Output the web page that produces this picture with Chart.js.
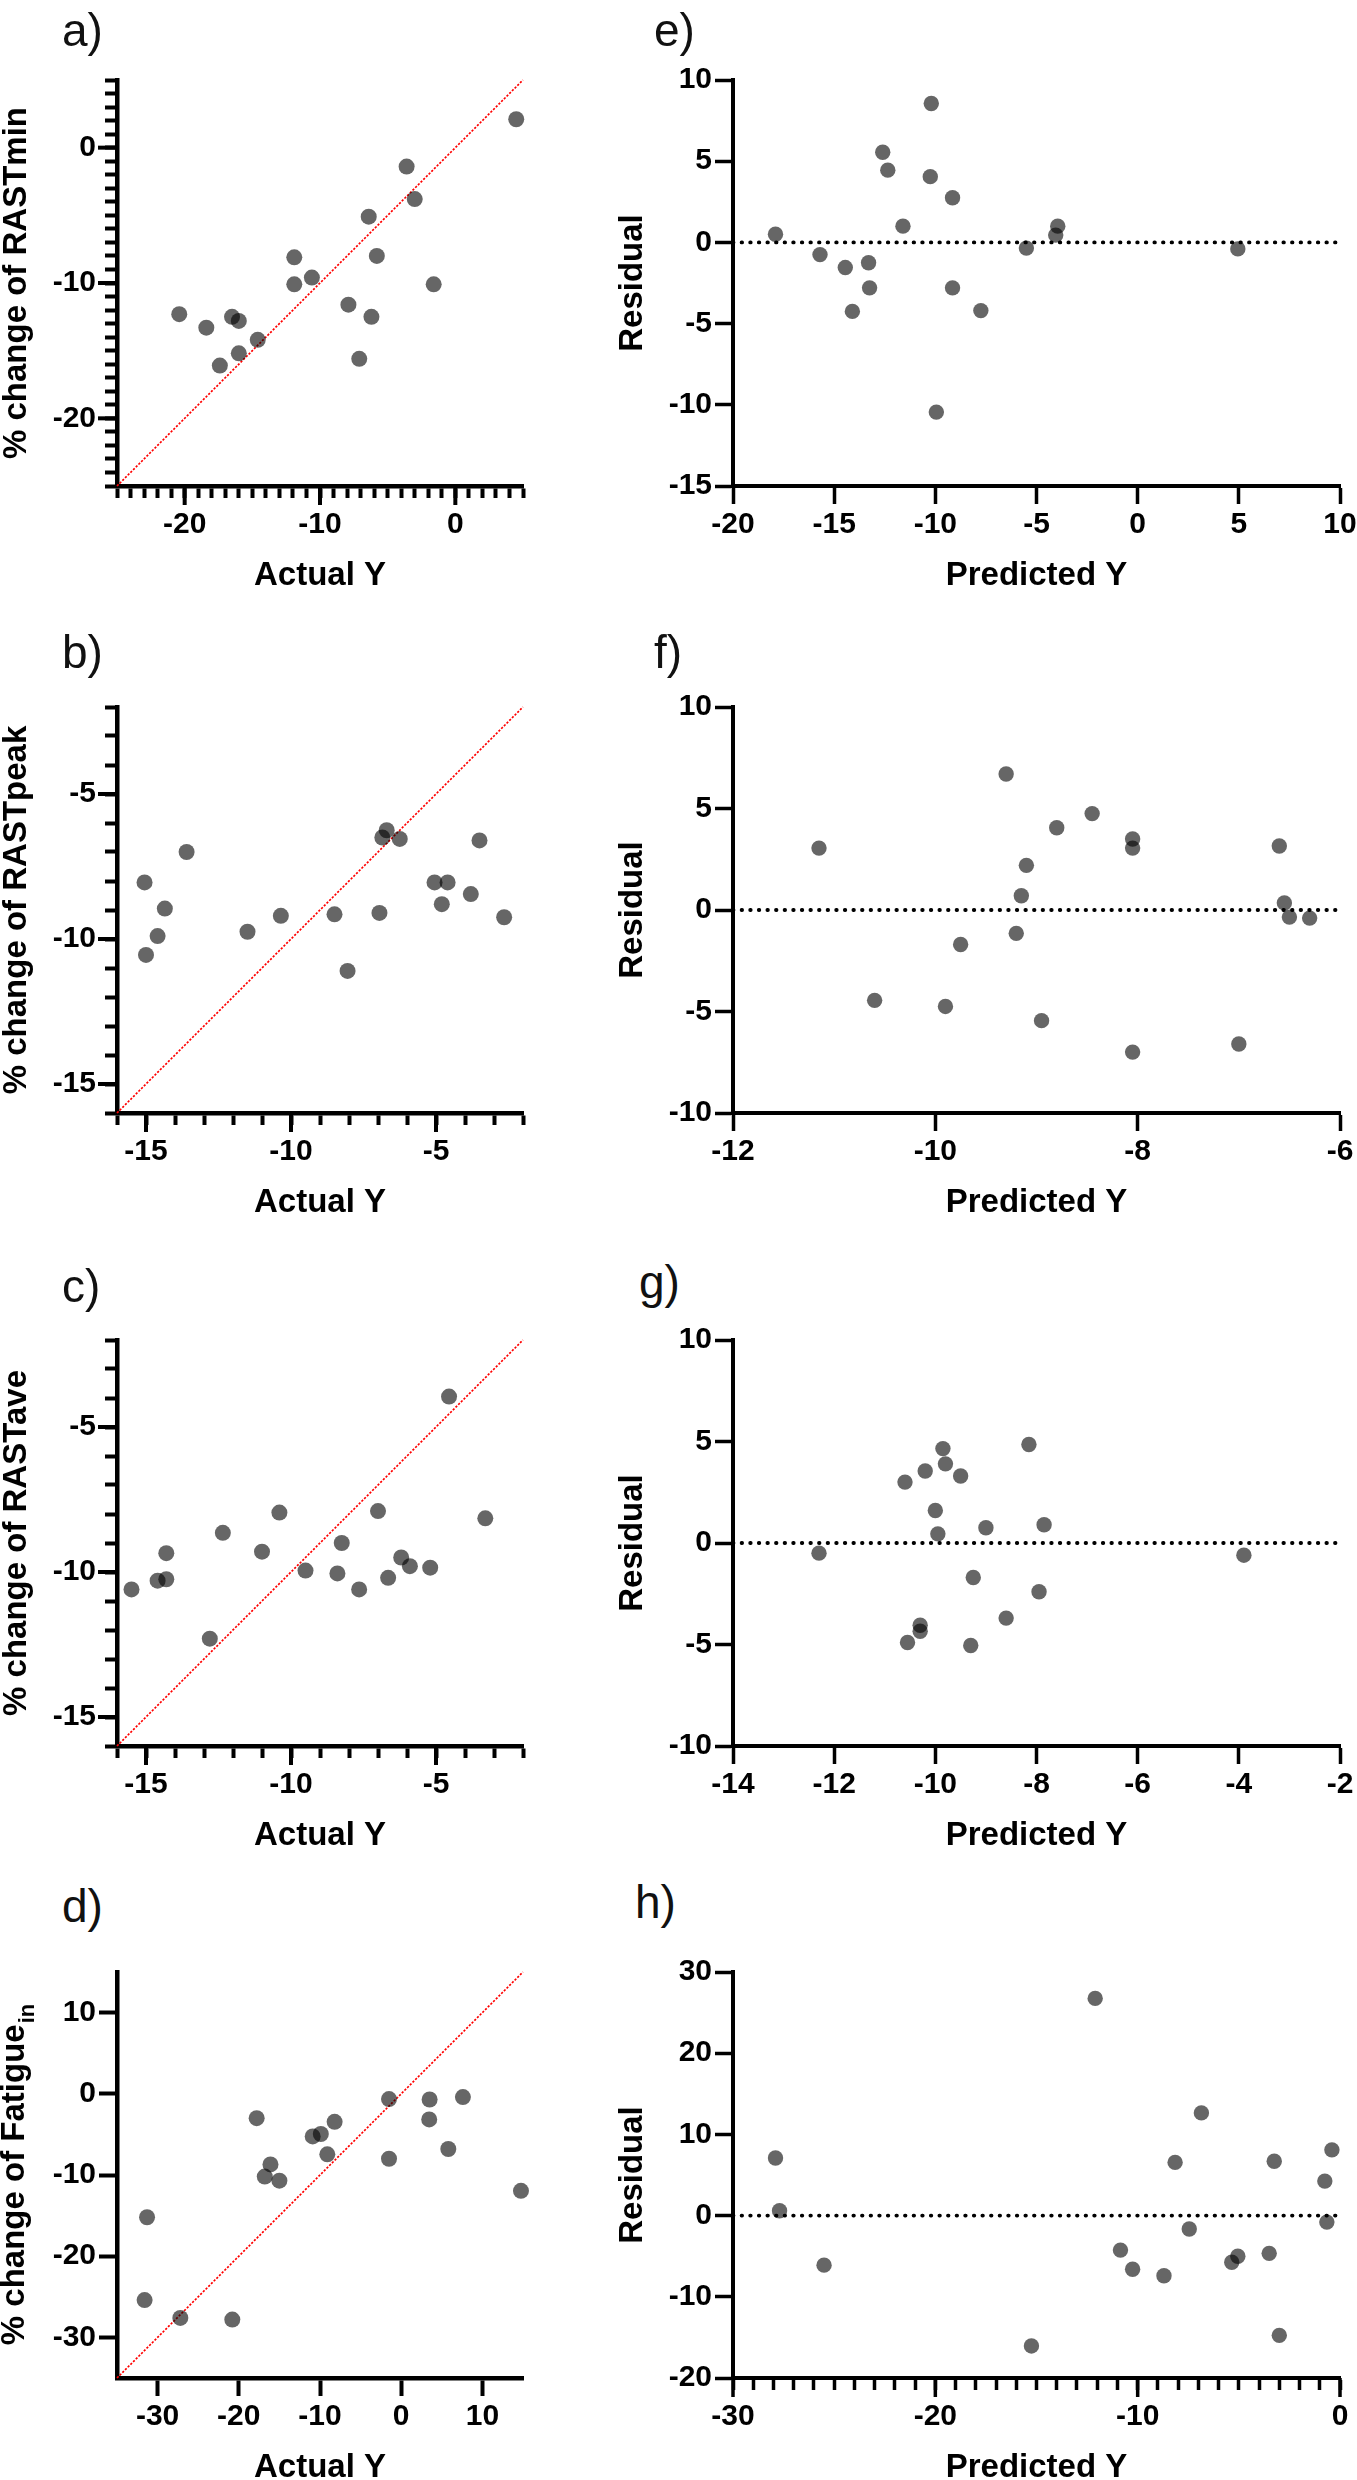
<!DOCTYPE html>
<html>
<head>
<meta charset="utf-8">
<title>Actual vs predicted and residual plots</title>
<script src="https://cdn.jsdelivr.net/npm/chart.js@4.4.1/dist/chart.umd.min.js"></script>
<style>
  html, body { margin: 0; padding: 0; background: #fff; }
  #fig { position: relative; width: 1357px; height: 2480px; overflow: hidden; }
  #fig canvas { position: absolute; }
  .tag { position: absolute; font-family: 'Liberation Sans', Arial, sans-serif; font-size: 46px; line-height: 46px; color: #111; }
</style>
</head>
<body>
<div id="fig"></div>
<script>
/* ===== values ===== */

// a) % change of RASTmin vs actual Y
const aActual = [4.5, -3.6, -3.0, -6.4, -5.8, -11.9, -10.6, -11.9, -1.6, -7.9, -6.2, -7.1, -20.4, -18.4, -16.5, -16.0, -14.6, -16.0, -17.4];
const aChange = [2.1, -1.4, -3.8, -5.1, -8.0, -8.1, -9.6, -10.1, -10.1, -11.6, -12.5, -15.6, -12.3, -13.3, -12.5, -12.8, -14.2, -15.2, -16.1];
const aXRange = [-25, 5];
const aYRange = [-25, 5];
const aXTicks = [-20, -10, 0];
const aYTicks = [0, -10, -20];

// b) % change of RASTpeak vs actual Y
const bActual = [-15.05, -15.0, -14.6, -14.35, -13.6, -11.5, -10.35, -8.5, -8.05, -6.95, -6.7, -6.85, -6.25, -5.05, -4.6, -4.8, -3.8, -3.5, -2.65];
const bChange = [-8.05, -10.55, -9.9, -8.95, -7.0, -9.75, -9.2, -9.15, -11.1, -9.1, -6.25, -6.5, -6.55, -8.05, -8.05, -8.8, -8.45, -6.6, -9.25];
const bXRange = [-16, -2];
const bYRange = [-16, -2];
const bXTicks = [-15, -10, -5];
const bYTicks = [-5, -10, -15];

// c) % change of RASTave vs actual Y
const cActual = [-15.5, -14.6, -14.3, -14.3, -12.8, -12.35, -11.0, -10.4, -9.5, -8.4, -8.25, -7.65, -7.0, -6.65, -6.2, -5.9, -5.2, -4.55, -3.3];
const cChange = [-10.6, -10.3, -10.25, -9.35, -12.3, -8.65, -9.3, -7.95, -9.95, -10.05, -9.0, -10.6, -7.9, -10.2, -9.5, -9.8, -9.85, -3.95, -8.15];
const cXRange = [-16, -2];
const cYRange = [-16, -2];
const cXTicks = [-15, -10, -5];
const cYTicks = [-5, -10, -15];

// d) % change of Fatigue(in) vs actual Y
const dActual = [-31.3, -31.6, -27.2, -20.8, -17.8, -16.1, -16.8, -15.0, -10.9, -9.9, -9.1, -8.2, -1.5, -1.5, 3.5, 3.45, 5.8, 7.6, 14.75];
const dChange = [-15.2, -25.4, -27.6, -27.8, -3.0, -8.7, -10.2, -10.7, -5.25, -4.95, -7.45, -3.45, -0.65, -8.0, -0.7, -3.15, -6.8, -0.4, -11.95];
const dXRange = [-35, 15];
const dYRange = [-35, 15];
const dXTicks = [-30, -20, -10, 0, 10];
const dYTicks = [10, 0, -10, -20, -30];

// e) residuals, RASTmin model
const ePredicted = [-17.9, -15.7, -14.45, -13.3, -14.1, -13.25, -12.6, -12.35, -11.6, -10.2, -10.25, -9.15, -9.15, -9.95, -7.75, -5.5, -4.05, -3.95, 4.95];
const eResidual = [0.5, -0.75, -1.55, -1.25, -4.25, -2.8, 5.55, 4.45, 1.0, 8.55, 4.05, 2.75, -2.8, -10.45, -4.2, -0.35, 0.45, 1.0, -0.4];
const eXRange = [-20, 10];
const eYRange = [-15, 10];
const eXTicks = [-20, -15, -10, -5, 0, 5, 10];
const eYTicks = [10, 5, 0, -5, -10, -15];

// f) residuals, RASTpeak model
const fPredicted = [-11.15, -10.6, -9.9, -9.75, -9.3, -9.2, -9.15, -9.1, -8.95, -8.8, -8.45, -8.05, -8.05, -8.05, -7.0, -6.6, -6.55, -6.5, -6.3];
const fResidual = [3.05, -4.45, -4.75, -1.7, 6.7, -1.15, 0.7, 2.2, -5.45, 4.05, 4.75, 3.5, 3.05, -7.0, -6.6, 3.15, 0.35, -0.35, -0.4];
const fXRange = [-12, -6];
const fYRange = [-10, 10];
const fXTicks = [-12, -10, -8, -6];
const fYTicks = [10, 5, 0, -5, -10];

// g) residuals, RASTave model
const gPredicted = [-12.3, -10.6, -10.55, -10.3, -10.3, -10.2, -10.0, -9.95, -9.85, -9.8, -9.5, -9.25, -9.3, -9.0, -8.6, -8.15, -7.95, -7.85, -3.9];
const gResidual = [-0.5, 3.0, -4.9, -4.05, -4.35, 3.55, 1.6, 0.45, 4.65, 3.9, 3.3, -1.7, -5.05, 0.75, -3.7, 4.85, -2.4, 0.9, -0.6];
const gXRange = [-14, -2];
const gYRange = [-10, 10];
const gXTicks = [-14, -12, -10, -8, -6, -4, -2];
const gYTicks = [10, 5, 0, -5, -10];

// h) residuals, Fatigue model
const hPredicted = [-27.9, -27.7, -25.5, -15.25, -12.1, -10.85, -10.25, -8.7, -8.15, -7.45, -6.85, -5.35, -5.05, -3.5, -3.25, -3.0, -0.75, -0.65, -0.4];
const hResidual = [7.1, 0.6, -6.1, -16.05, 26.75, -4.25, -6.6, -7.4, 6.55, -1.65, 12.65, -5.75, -5.0, -4.65, 6.7, -14.75, 4.25, -0.8, 8.1];
const hXRange = [-30, 0];
const hYRange = [-20, 30];
const hXTicks = [-30, -20, -10, 0];
const hYTicks = [30, 20, 10, 0, -10, -20];

/* ===== layout ===== */
const FONT = "'Liberation Sans', Arial, sans-serif";
const PLOT_TOPS = [80, 707, 1340, 1972];
const PLOT_H = 406;
const PAD_TOP = 30, X_AXIS_H = 120;
const TICK_SIZE = 30, TITLE_SIZE = 33;

const COLS = [
  { left: 0,   width: 560, axisW: 117, padRight: 37, border: 4.5, tick: 4,   dot: 8,   yTitlePad: 0 },
  { left: 560, width: 797, axisW: 173, padRight: 17, border: 4,   tick: 3.5, dot: 7.7, yTitlePad: 56 }
];

const PANELS = [
  { tag: 'a)', col: 0, row: 0, tagPos: [62, 7],    xs: aActual, ys: aChange, xr: aXRange, yr: aYRange, xt: aXTicks, yt: aYTicks, minorX: true,  minorY: true,  guide: 'identity', xTitle: 'Actual Y', yTitle: '% change of RASTmin' },
  { tag: 'b)', col: 0, row: 1, tagPos: [62, 629],  xs: bActual, ys: bChange, xr: bXRange, yr: bYRange, xt: bXTicks, yt: bYTicks, minorX: true,  minorY: true,  guide: 'identity', xTitle: 'Actual Y', yTitle: '% change of RASTpeak' },
  { tag: 'c)', col: 0, row: 2, tagPos: [62, 1263], xs: cActual, ys: cChange, xr: cXRange, yr: cYRange, xt: cXTicks, yt: cYTicks, minorX: true,  minorY: true,  guide: 'identity', xTitle: 'Actual Y', yTitle: '% change of RASTave' },
  { tag: 'd)', col: 0, row: 3, tagPos: [62, 1883], xs: dActual, ys: dChange, xr: dXRange, yr: dYRange, xt: dXTicks, yt: dYTicks, minorX: false, minorY: false, guide: 'identity', xTitle: 'Actual Y', yTitle: ['% change of Fatigue', 'in'] },
  { tag: 'e)', col: 1, row: 0, tagPos: [654, 7],   xs: ePredicted, ys: eResidual, xr: eXRange, yr: eYRange, xt: eXTicks, yt: eYTicks, minorX: false, minorY: false, guide: 'zero', xTitle: 'Predicted Y', yTitle: 'Residual' },
  { tag: 'f)', col: 1, row: 1, tagPos: [654, 629], xs: fPredicted, ys: fResidual, xr: fXRange, yr: fYRange, xt: fXTicks, yt: fYTicks, minorX: false, minorY: false, guide: 'zero', xTitle: 'Predicted Y', yTitle: 'Residual' },
  { tag: 'g)', col: 1, row: 2, tagPos: [639, 1259], xs: gPredicted, ys: gResidual, xr: gXRange, yr: gYRange, xt: gXTicks, yt: gYTicks, minorX: false, minorY: false, guide: 'zero', xTitle: 'Predicted Y', yTitle: 'Residual' },
  { tag: 'h)', col: 1, row: 3, tagPos: [635, 1879], xs: hPredicted, ys: hResidual, xr: hXRange, yr: hYRange, xt: hXTicks, yt: hYTicks, minorX: true,  minorY: false, guide: 'zero', xTitle: 'Predicted Y', yTitle: 'Residual' }
];

const MINOR_LEN = 12, MAJOR_LEN = 19, PLAIN_LEN = 18;

// longer marks at the labelled values on axes that also carry unit ticks
const majorTickPlugin = {
  id: 'majorTicks',
  afterDraw(chart, args, opts) {
    const ctx = chart.ctx;
    ctx.save();
    ctx.strokeStyle = '#000';
    ctx.lineWidth = opts.width;
    (opts.x || []).forEach(v => {
      const s = chart.scales.x, px = s.getPixelForValue(v);
      ctx.beginPath(); ctx.moveTo(px, s.top); ctx.lineTo(px, s.top + opts.len); ctx.stroke();
    });
    (opts.y || []).forEach(v => {
      const s = chart.scales.y, py = s.getPixelForValue(v);
      ctx.beginPath(); ctx.moveTo(s.right - opts.len, py); ctx.lineTo(s.right, py); ctx.stroke();
    });
    ctx.restore();
  }
};

// y title with a subscript (panel d)
const subTitlePlugin = {
  id: 'subTitle',
  afterDraw(chart, args, opts) {
    if (!opts.text) return;
    const { ctx, chartArea } = chart;
    const mainFont = `bold ${TITLE_SIZE}px ${FONT}`, subFont = `bold 22px ${FONT}`;
    ctx.save();
    ctx.translate(opts.x, (chartArea.top + chartArea.bottom) / 2);
    ctx.rotate(-Math.PI / 2);
    ctx.fillStyle = '#000';
    ctx.textBaseline = 'middle';
    ctx.font = mainFont;
    const w1 = ctx.measureText(opts.text[0]).width;
    ctx.font = subFont;
    const w2 = ctx.measureText(opts.text[1]).width;
    const x0 = -(w1 + w2) / 2;
    ctx.font = mainFont; ctx.fillText(opts.text[0], x0, 0);
    ctx.font = subFont; ctx.fillText(opts.text[1], x0 + w1 + 1, 13);
    ctx.restore();
  }
};

function tickValues(range, majors, minor) {
  if (!minor) return majors.slice();
  const vals = [];
  for (let v = range[0]; v <= range[1]; v++) vals.push(v);
  return vals;
}

function axisOptions(p, g, axis) {
  const isX = axis === 'x';
  const range = isX ? p.xr : p.yr;
  const majors = isX ? p.xt : p.yt;
  const minor = isX ? p.minorX : p.minorY;
  const vals = tickValues(range, majors, minor);
  const tl = minor ? MINOR_LEN : PLAIN_LEN;
  const title = isX ? p.xTitle : p.yTitle;
  const plainTitle = typeof title === 'string';
  return {
    type: 'linear',
    min: range[0],
    max: range[1],
    afterBuildTicks: s => { s.ticks = vals.map(v => ({ value: v })); },
    afterFit: s => {
      if (isX) { s.height = X_AXIS_H; s.paddingLeft = 0; s.paddingRight = 0; }
      else { s.width = g.axisW; s.paddingTop = 0; s.paddingBottom = 0; }
    },
    grid: { drawOnChartArea: false, drawTicks: true, tickLength: tl, tickWidth: g.tick, tickColor: '#000' },
    border: { display: true, color: '#000', width: g.border },
    ticks: {
      autoSkip: false,
      maxRotation: 0,
      color: '#000',
      font: { family: FONT, size: TICK_SIZE, weight: 'bold' },
      padding: isX ? 39 - TICK_SIZE * 0.6 - tl : 21 - tl,
      callback: v => majors.includes(v) ? String(v) : ''
    },
    title: {
      display: plainTitle,
      text: plainTitle ? title : '',
      color: '#000',
      font: { family: FONT, size: TITLE_SIZE, weight: 'bold', lineHeight: 1 },
      padding: isX ? { top: 0, bottom: 14 } : { top: g.yTitlePad, bottom: 0 }
    }
  };
}

function guideData(p) {
  if (p.guide === 'identity') return [{ x: p.xr[0], y: p.xr[0] }, { x: p.xr[1], y: p.xr[1] }];
  return [{ x: p.xr[0], y: 0 }, { x: p.xr[1], y: 0 }];
}

function renderPanel(fig, p) {
  const g = COLS[p.col];
  const cv = document.createElement('canvas');
  cv.width = g.width;
  cv.height = PAD_TOP + PLOT_H + X_AXIS_H;
  cv.style.left = g.left + 'px';
  cv.style.top = (PLOT_TOPS[p.row] - PAD_TOP) + 'px';
  fig.appendChild(cv);

  const tag = document.createElement('div');
  tag.className = 'tag';
  tag.textContent = p.tag;
  tag.style.left = p.tagPos[0] + 'px';
  tag.style.top = p.tagPos[1] + 'px';
  fig.appendChild(tag);

  const guide = p.guide === 'identity'
    ? { borderColor: '#ff0000', borderWidth: 1.7, borderDash: [2.2, 1.6], borderCapStyle: 'butt' }
    : { borderColor: '#000', borderWidth: 3.8, borderDash: [0.5, 8.1], borderCapStyle: 'round' };

  new Chart(cv, {
    type: 'scatter',
    data: {
      datasets: [
        {
          data: p.xs.map((x, i) => ({ x, y: p.ys[i] })),
          backgroundColor: 'rgba(0,0,0,0.6)',
          pointRadius: g.dot,
          pointHoverRadius: g.dot,
          pointBorderWidth: 0,
          clip: false,
          order: 1
        },
        Object.assign({
          type: 'line',
          data: guideData(p),
          pointRadius: 0,
          fill: false,
          clip: false,
          order: 2
        }, guide)
      ]
    },
    options: {
      responsive: false,
      animation: false,
      events: [],
      layout: { padding: { top: PAD_TOP, right: g.padRight, bottom: 0, left: 0 } },
      plugins: {
        legend: { display: false },
        tooltip: { enabled: false },
        majorTicks: {
          x: p.minorX ? p.xt : [],
          y: p.minorY ? p.yt : [],
          len: MAJOR_LEN,
          width: g.tick
        },
        subTitle: { text: Array.isArray(p.yTitle) ? p.yTitle : null, x: 15 }
      },
      scales: { x: axisOptions(p, g, 'x'), y: axisOptions(p, g, 'y') }
    },
    plugins: [majorTickPlugin, subTitlePlugin]
  });
}

const fig = document.getElementById('fig');
PANELS.forEach(p => renderPanel(fig, p));
</script>
</body>
</html>
